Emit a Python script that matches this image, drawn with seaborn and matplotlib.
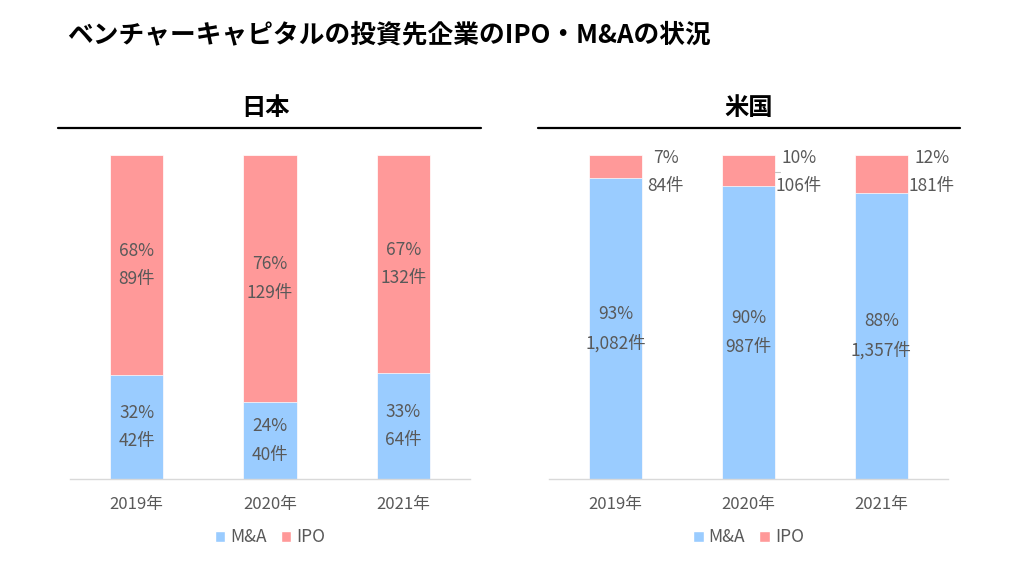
import matplotlib
matplotlib.use("Agg")
import matplotlib.pyplot as plt
import seaborn as sns
import pandas as pd
from matplotlib.lines import Line2D
from matplotlib.patches import Patch

# data
years = ["2019年", "2020年", "2021年"]
jp_ma = [42, 40, 64]
jp_ipo = [89, 129, 132]
us_ma = [1082, 987, 1357]
us_ipo = [84, 106, 181]

title = "ベンチャーキャピタルの投資先企業のIPO・M&Aの状況"
panel_titles = ["日本", "米国"]
legend_labels = ["M&A", "IPO"]

c_ma = "#9ACCFF"
c_ipo = "#FF9999"
c_text = "#595959"
c_axis = "#D9D9D9"

sns.set_theme(style="white")
plt.rcParams["font.family"] = ["Noto Sans CJK JP", "DejaVu Sans"]

fig = plt.figure(figsize=(10.24, 5.76), dpi=100)
ax_jp = fig.add_axes([0.0684, 0.1684, 0.3906, 0.5625])
ax_us = fig.add_axes([0.5361, 0.1684, 0.3896, 0.5625])

fig.text(0.066, 0.939, title, fontsize=18.5, fontweight="bold", color="black",
         ha="left", va="center")


def draw_panel(ax, ma, ipo, outside_ipo):
    total = [m + i for m, i in zip(ma, ipo)]
    df = pd.DataFrame({
        "year": years,
        "ma_share": [m / t for m, t in zip(ma, total)],
        "ipo_share": [i / t for i, t in zip(ipo, total)],
    })
    df["all"] = df["ma_share"] + df["ipo_share"]

    sns.barplot(data=df, x="year", y="all", color=c_ipo, width=0.4,
                saturation=1, edgecolor="white", linewidth=0.5, ax=ax)
    sns.barplot(data=df, x="year", y="ma_share", color=c_ma, width=0.4,
                saturation=1, edgecolor="white", linewidth=0.5, ax=ax)

    for k, row in df.iterrows():
        # M&A label in the middle of the blue segment
        ax.text(k, row["ma_share"] / 2,
                f"{row['ma_share']:.0%}\n{ma[k]:,}件",
                ha="center", va="center", fontsize=12.5, color=c_text,
                linespacing=1.75)
        if outside_ipo:
            ax.text(k + 0.38, 0.948,
                    f"{row['ipo_share']:.0%}\n{ipo[k]:,}件",
                    ha="center", va="center", fontsize=12.5, color=c_text,
                    linespacing=1.75)
        else:
            ax.text(k, row["ma_share"] + row["ipo_share"] / 2,
                    f"{row['ipo_share']:.0%}\n{ipo[k]:,}件",
                    ha="center", va="center", fontsize=12.5, color=c_text,
                    linespacing=1.75)

    ax.set_xlim(-0.5, 2.5)
    ax.set_ylim(0, 1)
    ax.set_xlabel("")
    ax.set_ylabel("")
    ax.set_yticks([])
    for s in ["top", "right", "left"]:
        ax.spines[s].set_visible(False)
    ax.spines["bottom"].set_color(c_axis)
    ax.spines["bottom"].set_linewidth(1)
    ax.tick_params(axis="x", length=0, labelsize=12, labelcolor=c_text, pad=12)

    handles = [Patch(facecolor=c_ma, label=legend_labels[0]),
               Patch(facecolor=c_ipo, label=legend_labels[1])]
    leg = ax.legend(handles=handles, loc="center", bbox_to_anchor=(0.5, -0.18),
                    ncol=2, frameon=False, fontsize=12.5, handlelength=0.6,
                    handleheight=0.6, handletextpad=0.3, columnspacing=0.8)
    for t in leg.get_texts():
        t.set_color(c_text)


draw_panel(ax_jp, jp_ma, jp_ipo, outside_ipo=False)
draw_panel(ax_us, us_ma, us_ipo, outside_ipo=True)

# US panel has tick marks between categories
ax_us.set_xticks([-0.5, 0.5, 1.5, 2.5], minor=True)
ax_us.tick_params(axis="x", which="minor", length=5, color=c_axis, width=1)

# short leader line on the 2020 IPO label
ax_us.plot([1.2, 1.24], [0.948, 0.948], color="#BFBFBF", lw=0.8)

# panel headings with rules underneath
fig.text(0.2588, 0.8125, panel_titles[0], fontsize=17.5, fontweight="bold",
         ha="center", va="center", color="black")
fig.text(0.7314, 0.8125, panel_titles[1], fontsize=17.5, fontweight="bold",
         ha="center", va="center", color="black")
fig.add_artist(Line2D([0.0566, 0.4697], [0.778, 0.778], color="black", lw=1.6))
fig.add_artist(Line2D([0.5254, 0.9375], [0.778, 0.778], color="black", lw=1.6))

fig.savefig("out.png", dpi=100)
